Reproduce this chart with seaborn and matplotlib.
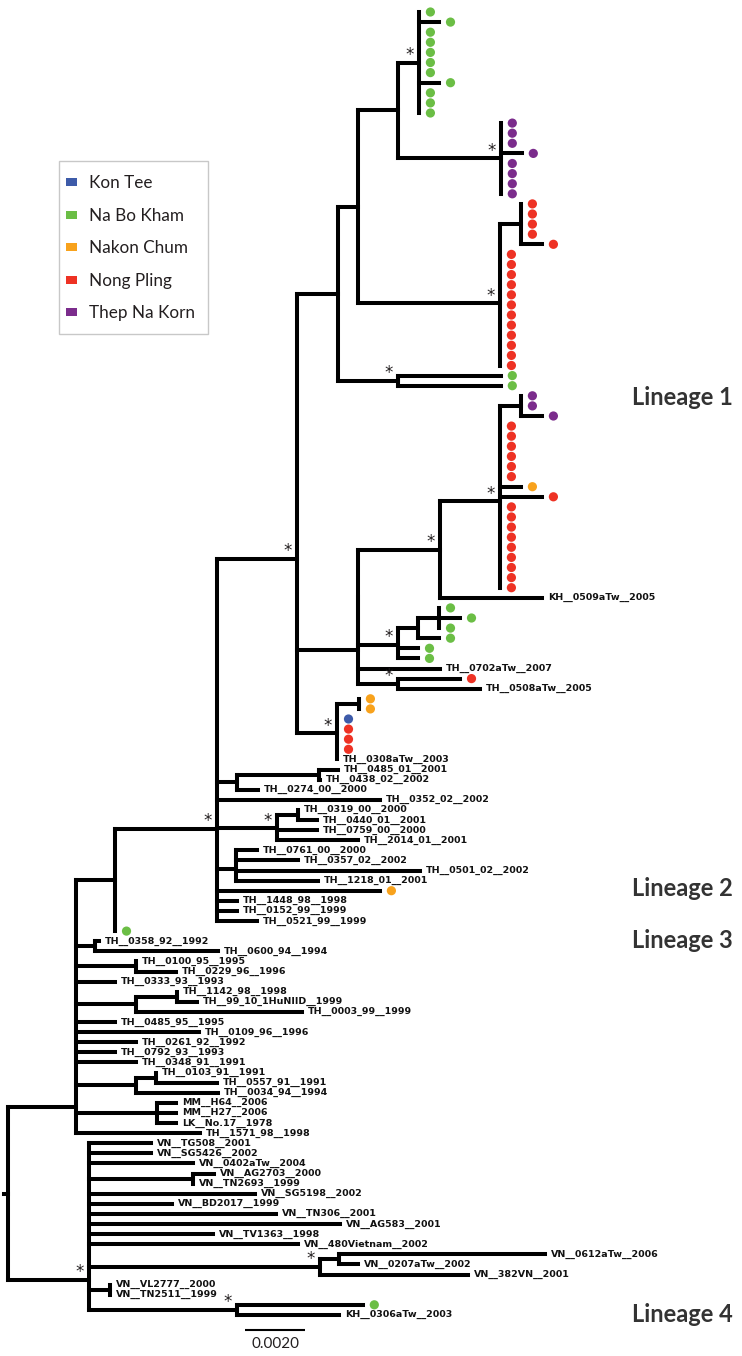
import numpy as np
import pandas as pd
import matplotlib
matplotlib.use("Agg")
import matplotlib.pyplot as plt
import matplotlib.patches as mpatches
from matplotlib.collections import LineCollection
import seaborn as sns

# ---------------- data ----------------
# Branch depths from the root, in units of 1e-4 substitutions/site.
# Leaves whose name starts with '#' are drawn as a coloured dot (letter = region code).
REGIONS = ["Kon Tee", "Na Bo Kham", "Nakon Chum", "Nong Pling", "Thep Na Korn"]
REGION_CODES = ["B", "G", "O", "R", "P"]
REGION_COLORS = ["#3D5BA9", "#6BBE45", "#F8A21C", "#EE3224", "#7B2C8C"]

TREE_L1_TOP = [
    ("n_root", None, 0.0),
    ("n_L123", "n_root", 22.7),
    ("n_L2a", "n_L123", 35.7),
    ("n_L2", "n_L2a", 69.7),
    ("n_L1", "n_L2", 96.3),
    ("n_c338", "n_L1", 110.0),
    ("n_c358", "n_c338", 116.7),
    ("n_c398", "n_c358", 130.0),
    ("n_gA", "n_c398", 137.0),
    ("#G01", "n_gA", 137.0), ("#G02", "n_gA", 143.7), ("#G03", "n_gA", 137.0),
    ("#G04", "n_gA", 137.0), ("#G05", "n_gA", 137.0), ("#G06", "n_gA", 137.0),
    ("#G07", "n_gA", 137.0), ("#G08", "n_gA", 143.7), ("#G09", "n_gA", 137.0),
    ("#G10", "n_gA", 137.0), ("#G11", "n_gA", 137.0),
    ("n_pA", "n_c398", 164.3),
    ("#P01", "n_pA", 164.3), ("#P02", "n_pA", 164.3), ("#P03", "n_pA", 164.3),
    ("#P04", "n_pA", 171.3), ("#P05", "n_pA", 164.3), ("#P06", "n_pA", 164.3),
    ("#P07", "n_pA", 164.3), ("#P08", "n_pA", 164.3),
    ("n_rA", "n_c358", 164.0),
    ("n_rAs", "n_rA", 171.0),
    ("#R01", "n_rAs", 171.0), ("#R02", "n_rAs", 171.0), ("#R03", "n_rAs", 171.0),
    ("#R04", "n_rAs", 171.0), ("#R05", "n_rAs", 178.0),
    ("#R06", "n_rA", 164.0), ("#R07", "n_rA", 164.0), ("#R08", "n_rA", 164.0),
    ("#R09", "n_rA", 164.0), ("#R10", "n_rA", 164.0), ("#R11", "n_rA", 164.0),
    ("#R12", "n_rA", 164.0), ("#R13", "n_rA", 164.0), ("#R14", "n_rA", 164.0),
    ("#R15", "n_rA", 164.0), ("#R16", "n_rA", 164.0), ("#R17", "n_rA", 164.0),
    ("n_gP", "n_c338", 130.0),
    ("#G12", "n_gP", 164.3), ("#G13", "n_gP", 164.3),
]

TREE_L1_LOW = [
    ("n_c358b", "n_L1", 116.7),
    ("n_c358c", "n_c358b", 116.7),
    ("n_c440", "n_c358c", 144.0),
    ("n_rB", "n_c440", 164.0),
    ("n_pB", "n_rB", 171.0),
    ("#P09", "n_pB", 171.0), ("#P10", "n_pB", 171.0), ("#P11", "n_pB", 178.0),
    ("#R18", "n_rB", 164.0), ("#R19", "n_rB", 164.0), ("#R20", "n_rB", 164.0),
    ("#R21", "n_rB", 164.0), ("#R22", "n_rB", 164.0), ("#R23", "n_rB", 164.0),
    ("#O01", "n_rB", 171.0),
    ("#R24", "n_rB", 178.0),
    ("#R25", "n_rB", 164.0), ("#R26", "n_rB", 164.0), ("#R27", "n_rB", 164.0),
    ("#R28", "n_rB", 164.0), ("#R29", "n_rB", 164.0), ("#R30", "n_rB", 164.0),
    ("#R31", "n_rB", 164.0), ("#R32", "n_rB", 164.0), ("#R33", "n_rB", 164.0),
    ("KH__0509aTw__2005", "n_c440", 178.0),
    ("n_gB", "n_c358c", 130.0),
    ("n_gB2", "n_gB", 136.7),
    ("n_gB3", "n_gB2", 143.7),
    ("#G14", "n_gB3", 143.7), ("#G15", "n_gB3", 150.7), ("#G16", "n_gB3", 143.7),
    ("#G17", "n_gB2", 143.7),
    ("#G18", "n_gB", 136.7), ("#G19", "n_gB", 136.7),
    ("TH__0702aTw__2007", "n_c358b", 144.0),
    ("n_c398p", "n_c358b", 130.0),
    ("#R34", "n_c398p", 150.7),
    ("TH__0508aTw__2005", "n_c398p", 157.3),
    ("n_oR", "n_L1", 109.7),
    ("n_oRs", "n_oR", 117.0),
    ("#O02", "n_oRs", 117.0), ("#O03", "n_oRs", 117.0),
    ("#B01", "n_oR", 109.7),
    ("#R35", "n_oR", 109.7), ("#R36", "n_oR", 109.7), ("#R37", "n_oR", 109.7),
    ("TH__0308aTw__2003", "n_oR", 109.7),
]

TREE_L2 = [
    ("n_m237", "n_L2", 76.3),
    ("n_m320", "n_m237", 103.7),
    ("TH__0485_01__2001", "n_m320", 110.0),
    ("TH__0438_02__2002", "n_m320", 104.0),
    ("TH__0274_00__2000", "n_m237", 83.3),
    ("TH__0352_02__2002", "n_L2", 124.0),
    ("n_m277", "n_L2", 89.7),
    ("n_m298", "n_m277", 96.7),
    ("TH__0319_00__2000", "n_m298", 96.7),
    ("TH__0440_01__2001", "n_m298", 103.0),
    ("TH__0759_00__2000", "n_m277", 103.0),
    ("TH__2014_01__2001", "n_m277", 116.7),
    ("n_m236", "n_L2", 76.0),
    ("n_m236b", "n_m236", 76.0),
    ("TH__0761_00__2000", "n_m236b", 83.0),
    ("TH__0357_02__2002", "n_m236b", 96.7),
    ("TH__0501_02__2002", "n_m236", 137.3),
    ("TH__1218_01__2001", "n_m236", 103.3),
    ("#O04", "n_L2", 124.0),
    ("TH__1448_98__1998", "n_L2", 76.3),
    ("TH__0152_99__1999", "n_L2", 76.3),
    ("TH__0521_99__1999", "n_L2", 83.0),
    ("#G20", "n_L2a", 35.7),
]

TREE_L3 = [
    ("n_k95", "n_L123", 29.0),
    ("TH__0358_92__1992", "n_k95", 30.3),
    ("TH__0600_94__1994", "n_k95", 70.0),
    ("n_k136a", "n_L123", 42.7),
    ("TH__0100_95__1995", "n_k136a", 42.7),
    ("TH__0229_96__1996", "n_k136a", 56.0),
    ("TH__0333_93__1993", "n_L123", 35.7),
    ("n_k136b", "n_L123", 42.7),
    ("n_k177", "n_k136b", 56.3),
    ("TH__1142_98__1998", "n_k177", 56.3),
    ("TH__99_10_1HuNIID__1999", "n_k177", 63.0),
    ("TH__0003_99__1999", "n_k136b", 98.0),
    ("TH__0485_95__1995", "n_L123", 35.7),
    ("TH__0109_96__1996", "n_L123", 63.7),
    ("TH__0261_92__1992", "n_L123", 42.7),
    ("TH__0792_93__1993", "n_L123", 35.7),
    ("TH__0348_91__1991", "n_L123", 42.7),
    ("n_k136c", "n_L123", 42.7),
    ("n_k156", "n_k136c", 49.3),
    ("TH__0103_91__1991", "n_k156", 49.3),
    ("TH__0557_91__1991", "n_k156", 69.7),
    ("TH__0034_94__1994", "n_k136c", 70.0),
    ("n_k157", "n_L123", 49.7),
    ("MM__H64__2006", "n_k157", 56.0),
    ("MM__H27__2006", "n_k157", 56.0),
    ("LK__No.17__1978", "n_k157", 56.0),
    ("TH__1571_98__1998", "n_L123", 64.0),
]

TREE_L4 = [
    ("n_L4", "n_root", 27.0),
    ("VN__TG508__2001", "n_L4", 47.7),
    ("VN__SG5426__2002", "n_L4", 47.7),
    ("VN__0402aTw__2004", "n_L4", 61.7),
    ("n_v193", "n_L4", 61.7),
    ("VN__AG2703__2000", "n_v193", 68.7),
    ("VN__TN2693__1999", "n_v193", 61.7),
    ("VN__SG5198__2002", "n_L4", 82.2),
    ("VN__BD2017__1999", "n_L4", 54.7),
    ("VN__TN306__2001", "n_L4", 89.3),
    ("VN__AG583__2001", "n_L4", 110.7),
    ("VN__TV1363__1998", "n_L4", 68.3),
    ("VN__480Vietnam__2002", "n_L4", 96.7),
    ("n_v320", "n_L4", 104.0),
    ("n_v339", "n_v320", 110.3),
    ("VN__0612aTw__2006", "n_v339", 179.0),
    ("VN__0207aTw__2002", "n_v339", 116.7),
    ("VN__382VN__2001", "n_v320", 153.3),
    ("n_v110", "n_L4", 34.0),
    ("VN__VL2777__2000", "n_v110", 34.0),
    ("VN__TN2511__1999", "n_v110", 34.0),
    ("n_v237", "n_L4", 76.3),
    ("#G21", "n_v237", 118.3),
    ("KH__0306aTw__2003", "n_v237", 110.3),
]

SUPPORTED = ["n_gA", "n_pA", "n_rA", "n_gP", "n_L1", "n_c440", "n_rB", "n_gB",
             "n_c398p", "n_oR", "n_L2", "n_m277", "n_v320", "n_L4", "n_v237"]

LINEAGE_LABELS = ["Lineage 1", "Lineage 2", "Lineage 3", "Lineage 4"]
SCALE_BAR_LEN = 20.0          # 1e-4 units -> 0.0020
SCALE_BAR_TEXT = "0.0020"

# ---------------- layout (pixels of the 742x1356 canvas) ----------------
W, H = 742, 1356
X0_PX, PX_PER_UNIT = 8.0, 3.0          # root x and px per 1e-4 unit
Y0_PX, PX_PER_ROW = 12.0, 10.1
NODE_Y_OVERRIDE = {"n_L123": (1107 - Y0_PX) / PX_PER_ROW,
                   "n_L4": (1280 - Y0_PX) / PX_PER_ROW}

def px2x(p):
    return (p - X0_PX) / PX_PER_UNIT

def px2y(p):
    return (p - Y0_PX) / PX_PER_ROW

# ---------------- build tree ----------------
edges = TREE_L1_TOP + TREE_L1_LOW + TREE_L2 + TREE_L3 + TREE_L4
depth = {n: d for n, p, d in edges}
parent = {n: p for n, p, d in edges}
children = {n: [] for n, p, d in edges}
for n, p, d in edges:
    if p is not None:
        children[p].append(n)

ypos = {}
row = [0]

def layout(n):
    if not children[n]:
        ypos[n] = row[0]
        row[0] += 1
        return ypos[n]
    ys = [layout(c) for c in children[n]]
    ypos[n] = NODE_Y_OVERRIDE.get(n, float(np.mean(ys)))
    return ypos[n]

layout("n_root")

segs = []
for n, p, d in edges:
    if p is not None and depth[n] > depth[p]:
        segs.append([(depth[p], ypos[n]), (depth[n], ypos[n])])
    if children[n]:
        cy = [ypos[c] for c in children[n]]
        segs.append([(depth[n], min(cy)), (depth[n], max(cy))])
segs.append([(-1.4, ypos["n_root"]), (0.0, ypos["n_root"])])

# ---------------- draw ----------------
sns.set_style("white")
plt.rcParams["font.family"] = ["Liberation Sans", "DejaVu Sans"]

fig = plt.figure(figsize=(W / 100, H / 100), dpi=100)
ax = fig.add_axes([0, 0, 1, 1])
ax.set_xlim(px2x(0), px2x(W))
ax.set_ylim(px2y(H), px2y(0))

lc = LineCollection(segs, colors="black", linewidths=2.9, capstyle="projecting",
                    joinstyle="miter")
ax.add_collection(lc)

code2region = dict(zip(REGION_CODES, REGIONS))
dot_rows = []
for n in depth:
    if not children[n] and n.startswith("#"):
        dot_rows.append({"x": depth[n] + 3.8, "y": ypos[n],
                         "region": code2region[n[1]]})
dots = pd.DataFrame(dot_rows)
sns.scatterplot(data=dots, x="x", y="y", hue="region", hue_order=REGIONS,
                palette=dict(zip(REGIONS, REGION_COLORS)), s=44, linewidth=0,
                ax=ax, legend=False, zorder=3)

for n in depth:
    if not children[n] and not n.startswith("#"):
        ax.text(depth[n] + 2.0, ypos[n], n, ha="left", va="center",
                fontsize=6.8, fontweight="bold", color="#111111",
                family=["DejaVu Sans"])

for n in SUPPORTED:
    ax.text(depth[n] - 3.0, ypos[n] - 0.75, "*", ha="center", va="center",
            fontsize=12, color="#231F20", family=["DejaVu Sans"])

lineage_y_px = [397, 888, 940, 1314]
for lab, yp in zip(LINEAGE_LABELS, lineage_y_px):
    ax.text(px2x(632), px2y(yp), lab, ha="left", va="center", fontsize=17,
            fontweight="bold", color="#333333", family=["Lato", "DejaVu Sans"])

# scale bar
sb_x0 = px2x(245)
ax.plot([sb_x0, sb_x0 + SCALE_BAR_LEN], [px2y(1330)] * 2, color="black", lw=1.5,
        solid_capstyle="butt")
ax.text(sb_x0 + SCALE_BAR_LEN / 2, px2y(1344), SCALE_BAR_TEXT, ha="center",
        va="center", fontsize=11, color="#231F20", family=["Lato", "DejaVu Sans"])

# legend (frame drawn separately for exact placement)
fig.patches.append(mpatches.Rectangle((59 / W, 1 - 334 / H), 149 / W, 173 / H,
                                      transform=fig.transFigure, fill=False,
                                      edgecolor="#C8C8C8", linewidth=1.0))
handles = [mpatches.Patch(facecolor=c, edgecolor="none", label=r)
           for r, c in zip(REGIONS, REGION_COLORS)]
leg = ax.legend(handles=handles, loc="upper left",
                bbox_to_anchor=(66 / W, 1 - 175.5 / H), bbox_transform=fig.transFigure,
                frameon=False, handlelength=0.63, handleheight=0.35,
                handletextpad=0.7, labelspacing=0.96, borderpad=0.0,
                borderaxespad=0, prop={"family": "Lato", "size": 12.3})
for t in leg.get_texts():
    t.set_color("#231F20")

ax.set_axis_off()
fig.savefig("out.png", dpi=100)
